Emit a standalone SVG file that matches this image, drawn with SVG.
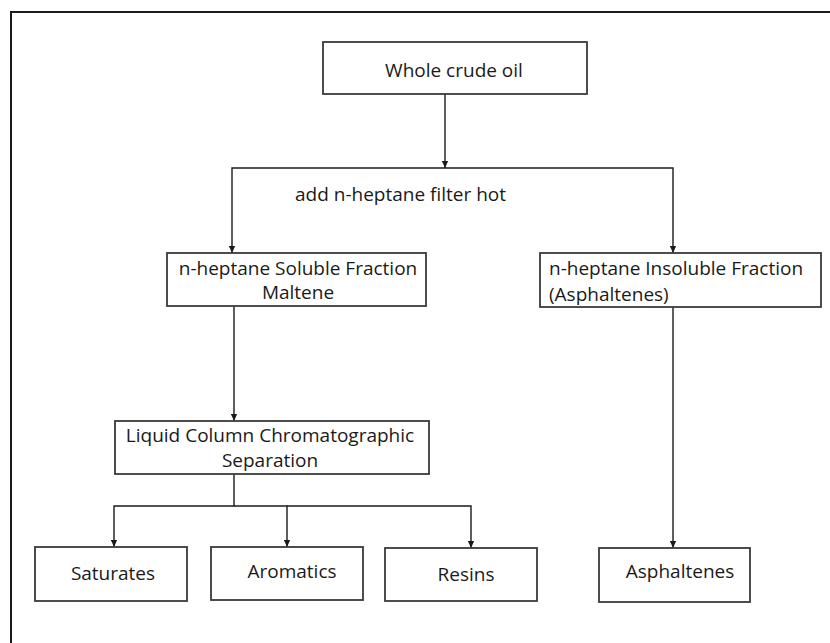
<svg xmlns="http://www.w3.org/2000/svg" width="830" height="643" viewBox="0 0 830 643">
<defs>
<marker id="arr" viewBox="0 0 10 10" refX="10" refY="5" markerWidth="10" markerHeight="7" markerUnits="userSpaceOnUse" orient="auto">
<path d="M0,0.5 L10,5 L0,9.5 Z" fill="#1a1a1a"/>
</marker>
</defs>
<style>
.box{fill:#fff;stroke:#3a3a3a;stroke-width:1.8}
.t{font-family:"Open Sans","Liberation Sans",sans-serif;font-size:19px;fill:#1a1a1a}
.c{text-anchor:middle}
.ln{fill:none;stroke:#1a1a1a;stroke-width:1.4}
</style>
<rect width="830" height="643" fill="#fff"/>
<path d="M11,643 V12 H830" fill="none" stroke="#1a1a1a" stroke-width="2"/>
<g id="connectors">
<path class="ln" d="M445,94 V168" marker-end="url(#arr)"/>
<path class="ln" d="M445,168 H232 V253" marker-end="url(#arr)"/>
<path class="ln" d="M445,168 H673 V253" marker-end="url(#arr)"/>
<path class="ln" d="M234,306 V421" marker-end="url(#arr)"/>
<path class="ln" d="M673,307 V548" marker-end="url(#arr)"/>
<path class="ln" d="M234,474 V506 H114 V547" marker-end="url(#arr)"/>
<path class="ln" d="M234,506 H287 V547" marker-end="url(#arr)"/>
<path class="ln" d="M287,506 H471 V548" marker-end="url(#arr)"/>
<text class="t" x="295" y="201">add n-heptane filter hot</text>
</g>
<g id="whole">
<rect class="box" x="323" y="42" width="264" height="52"/>
<text class="t c" x="454" y="77">Whole crude oil</text>
</g>
<g id="soluble">
<rect class="box" x="167" y="253" width="259" height="53"/>
<text class="t c" x="298" y="275">n-heptane Soluble Fraction</text>
<text class="t c" x="298" y="299">Maltene</text>
</g>
<g id="insoluble">
<rect class="box" x="540" y="253" width="281" height="54"/>
<text class="t" x="549" y="275">n-heptane Insoluble Fraction</text>
<text class="t" x="549" y="301">(Asphaltenes)</text>
</g>
<g id="lcc">
<rect class="box" x="115" y="421" width="314" height="53"/>
<text class="t c" x="270" y="442">Liquid Column Chromatographic</text>
<text class="t c" x="270" y="467">Separation</text>
</g>
<g id="saturates">
<rect class="box" x="35" y="547" width="152" height="54"/>
<text class="t c" x="113" y="580">Saturates</text>
</g>
<g id="aromatics">
<rect class="box" x="211" y="547" width="152" height="53"/>
<text class="t c" x="292" y="578">Aromatics</text>
</g>
<g id="resins">
<rect class="box" x="385" y="548" width="152" height="53"/>
<text class="t c" x="466" y="581">Resins</text>
</g>
<g id="asphaltenes">
<rect class="box" x="599" y="548" width="151" height="54"/>
<text class="t c" x="680" y="578">Asphaltenes</text>
</g>
</svg>
